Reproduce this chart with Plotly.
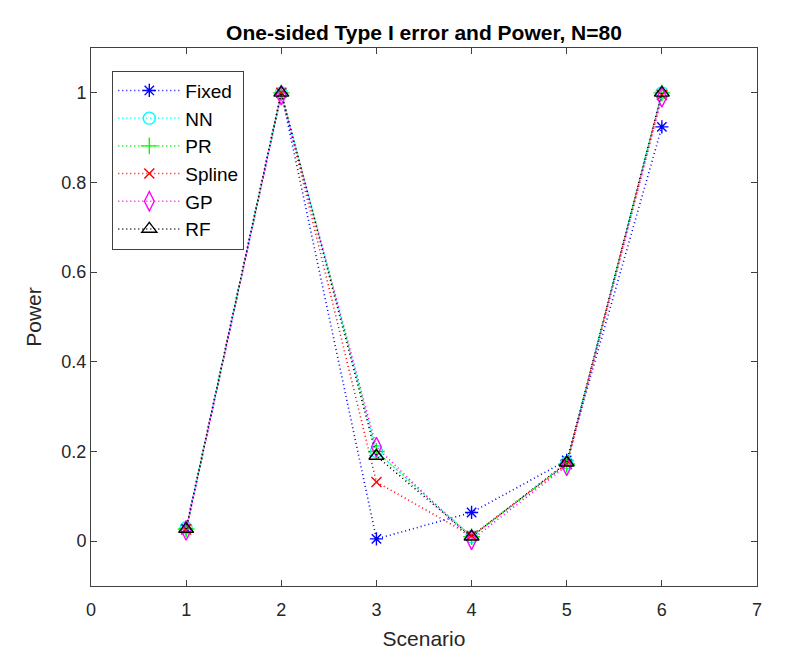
import plotly.graph_objects as go

scenarios = [1, 2, 3, 4, 5, 6]
fixed = [0.028, 1.0, 0.005, 0.064, 0.180, 0.924]
nn = [0.030, 1.0, 0.200, 0.010, 0.175, 1.0]
pr = [0.027, 1.0, 0.200, 0.010, 0.172, 1.0]
spline = [0.026, 1.0, 0.132, 0.012, 0.172, 0.995]
gp = [0.024, 0.995, 0.210, 0.003, 0.168, 0.990]
rf = [0.027, 1.0, 0.190, 0.010, 0.175, 1.0]

series = [
    ("Fixed", fixed, "#0000FF", "asterisk-open", 11),
    ("NN", nn, "#00FFFF", "circle-open", 12),
    ("PR", pr, "#00FF00", "cross-thin-open", 12),
    ("Spline", spline, "#FF0000", "x-thin-open", 10),
    ("GP", gp, "#FF00FF", "diamond-tall-open", 14),
    ("RF", rf, "#000000", "triangle-up-open", 13),
]

fig = go.Figure()
for name, vals, color, sym, size in series:
    fig.add_trace(go.Scatter(
        x=scenarios, y=vals, name=name, mode="lines+markers",
        line=dict(color=color, width=1.6, dash="1px,3px"),
        marker=dict(symbol=sym, size=size, color=color,
                    line=dict(color=color, width=1.4)),
    ))

axis_common = dict(
    showgrid=False, zeroline=False, showline=True, linecolor="#404040",
    linewidth=1, mirror="ticks", ticks="inside", ticklen=6,
    tickcolor="#404040", tickfont=dict(size=18, color="#262626"),
)

fig.update_layout(
    width=792, height=664,
    paper_bgcolor="white", plot_bgcolor="white",
    font=dict(family="Liberation Sans, Arial, sans-serif", color="#262626"),
    margin=dict(l=83, r=43, t=40, b=86),
    title=dict(text="<b>One-sided Type I error and Power, N=80</b>",
               x=0.5, xanchor="center", xref="paper", y=0.963, yanchor="middle",
               font=dict(size=21, color="#000000")),
    xaxis=dict(range=[0, 7], tickvals=[0, 1, 2, 3, 4, 5, 6, 7],
               ticklabelstandoff=7,
               title=dict(text="Scenario", font=dict(size=21), standoff=12),
               **axis_common),
    yaxis=dict(range=[-0.1, 1.1], tickvals=[0, 0.2, 0.4, 0.6, 0.8, 1],
               ticktext=["0", "0.2", "0.4", "0.6", "0.8", "1"],
               title=dict(text="Power", font=dict(size=21), standoff=14),
               **axis_common),
    legend=dict(x=0.032, y=0.958, xanchor="left", yanchor="top",
                bgcolor="white", bordercolor="#404040", borderwidth=1,
                font=dict(size=19, color="#000000"), tracegroupgap=0,
                itemwidth=62),
    showlegend=True,
)

fig.write_html("out.html")
